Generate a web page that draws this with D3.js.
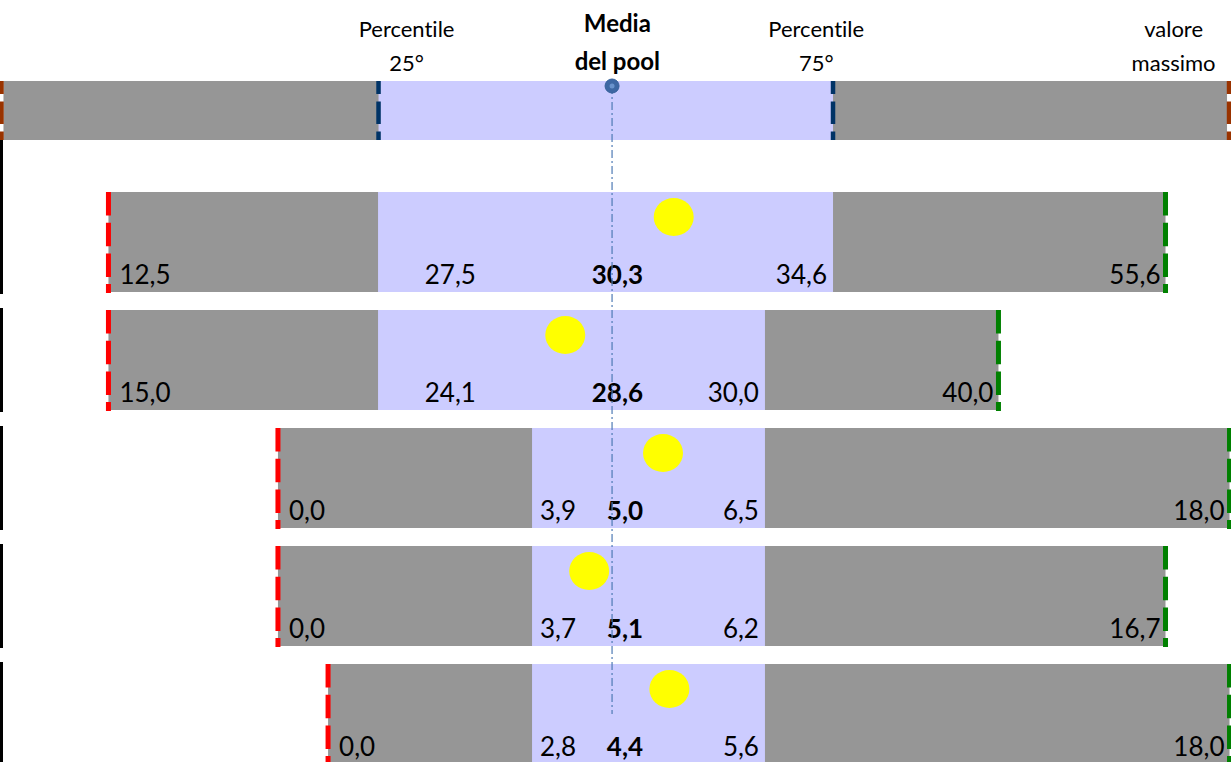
<!DOCTYPE html>
<html>
<head>
<meta charset="utf-8">
<script src="https://cdn.jsdelivr.net/npm/d3@7"></script>
<style>
  body { margin: 0; background: #fff; }
  svg { display: block; font-family: Lato, "Open Sans", sans-serif; font-variant-ligatures: none; }
</style>
</head>
<body>
<svg width="1231" height="762"></svg>
<script>
// values, one entry per row
const rowMin  = [12.5, 15.0, 0.0, 0.0, 0.0];
const rowP25  = [27.5, 24.1, 3.9, 3.7, 2.8];
const rowMean = [30.3, 28.6, 5.0, 5.1, 4.4];
const rowP75  = [34.6, 30.0, 6.5, 6.2, 5.6];
const rowMax  = [55.6, 40.0, 18.0, 16.7, 18.0];
// yellow dot = value of the unit (no label in the picture, estimated)
const unitValue = [31.5, 27.7, 5.5, 4.7, 4.85];

// legend row on top
const headerDomain = [0, 25, 50, 75, 100];
const headerLabels = [["Percentile", "25°"], ["Media", "del pool"], ["Percentile", "75°"], ["valore", "massimo"]];
const headerLabelAt = [28, 50.6, 73.1, 96.5];
const headerBold = [false, true, false, false];

// schematic layout: where min, p25, mean, p75, max sit in each row (percent of width)
const headerStops = [0.12, 30.75, 49.72, 67.67, 99.84];
const rowStops = [
  [8.81, 30.71, 49.72, 67.67, 94.68],
  [8.81, 30.71, 49.72, 62.14, 81.11],
  [22.58, 43.22, 49.72, 62.14, 99.88],
  [22.58, 43.22, 49.72, 62.14, 94.68],
  [26.65, 43.22, 49.72, 62.14, 99.88]
];

const width = 1231, height = 762;
const svg = d3.select('svg');
const fmt = d3.formatLocale({decimal: ",", thousands: ".", grouping: [3], currency: ["", "€"]}).format(".1f");

const frame = d3.scaleLinear().domain([0, 100]).range([0, width]);

const GRAY = '#969696', LAV = '#ccccff';

// ---------- header ----------
const hx = d3.scaleLinear().domain(headerDomain).range(headerStops.map(frame));
const headTop = 81, headH = 59;

svg.append('rect')
  .attr('x', hx(0) + 2).attr('y', headTop)
  .attr('width', hx(100) - hx(0) - 4).attr('height', headH)
  .attr('fill', GRAY);
svg.append('rect')
  .attr('x', hx(25)).attr('y', headTop)
  .attr('width', hx(75) - hx(25)).attr('height', headH)
  .attr('fill', LAV);

const headMarks = [[0, '#993300'], [25, '#003366'], [75, '#003366'], [100, '#993300']];
svg.selectAll('line.hmark').data(headMarks).enter().append('line')
  .attr('class', 'hmark')
  .attr('x1', d => hx(d[0])).attr('x2', d => hx(d[0]))
  .attr('y1', headTop).attr('y2', headTop + headH)
  .attr('stroke', d => d[1])
  .attr('stroke-width', 4.5)
  .attr('stroke-dasharray', '22.5,7.5')
  .attr('stroke-dashoffset', 9.5);

headerLabels.forEach((lines, i) => {
  const t = svg.append('text')
    .attr('x', hx(headerLabelAt[i]))
    .attr('text-anchor', 'middle')
    .attr('font-size', headerBold[i] ? 24 : 22)
    .attr('font-weight', headerBold[i] ? 'bold' : 'normal')
    .attr('fill', '#000');
  lines.forEach((s, j) => {
    t.append('tspan')
      .attr('x', hx(headerLabelAt[i]))
      .attr('y', (headerBold[i] ? 32 : 37) + j * (headerBold[i] ? 38 : 34))
      .text(s);
  });
});

// ---------- rows ----------
const rows = rowMin.map((m, i) => ({
  i: i, min: m, p25: rowP25[i], mean: rowMean[i], p75: rowP75[i], max: rowMax[i], unit: unitValue[i]
}));

const rowStep = 118, rowGap = 18, rowTop = 192;
const y = d3.scaleBand().domain(d3.range(rows.length))
  .range([rowTop, rowTop + rowStep * rows.length - rowGap])
  .paddingInner(rowGap / rowStep).paddingOuter(0);
const bh = y.bandwidth();

rows.forEach(r => {
  r.x = d3.scaleLinear()
    .domain([r.min, r.p25, r.mean, r.p75, r.max])
    .range(rowStops[r.i].map(frame));
});

// left frame edge of each small chart
svg.selectAll('line.edge').data(rows).enter().append('line')
  .attr('class', 'edge')
  .attr('x1', 1.5).attr('x2', 1.5)
  .attr('y1', d => d.i === 0 ? headTop + headH : y(d.i) - 2)
  .attr('y2', d => y(d.i) + bh + 2)
  .attr('stroke', '#000').attr('stroke-width', 3);

const g = svg.selectAll('g.row').data(rows).enter().append('g')
  .attr('class', 'row')
  .attr('transform', d => `translate(0,${y(d.i)})`);

g.append('rect')
  .attr('x', d => d.x(d.min)).attr('y', 0)
  .attr('width', d => d.x(d.max) - d.x(d.min)).attr('height', bh)
  .attr('fill', GRAY);
g.append('rect')
  .attr('x', d => d.x(d.p25)).attr('y', 0)
  .attr('width', d => d.x(d.p75) - d.x(d.p25)).attr('height', bh)
  .attr('fill', LAV);

// min (red) and max (green) dashed ends
[['min', '#ff0000'], ['max', '#008000']].forEach(([k, c]) => {
  g.append('line')
    .attr('x1', d => d.x(d[k])).attr('x2', d => d.x(d[k]))
    .attr('y1', 0).attr('y2', bh + 1)
    .attr('stroke', c).attr('stroke-width', 5)
    .attr('stroke-dasharray', '23.5,7.2');
});

g.append('ellipse')
  .attr('cx', d => d.x(d.unit)).attr('cy', 25)
  .attr('rx', 20).attr('ry', 19)
  .attr('fill', '#ffff00');

// value labels
const base = bh - 8;
const lab = (sel, cls) => sel.append('text').attr('class', cls)
  .attr('y', base).attr('font-size', 26).attr('fill', '#000');

lab(g, 'lmin').attr('x', d => d.x(d.min) + 11).text(d => fmt(d.min));
lab(g, 'lp25').attr('text-anchor', 'end')
  .attr('x', d => d.x(d.mean) + 16 - 0.65 * (d.x(d.mean) - d.x(d.p25)))
  .text(d => fmt(d.p25));
lab(g, 'lmean').attr('text-anchor', 'end').attr('font-weight', 'bold')
  .attr('x', d => d.x(d.mean) + 31).text(d => fmt(d.mean));
lab(g, 'lp75').attr('text-anchor', 'end')
  .attr('x', d => d.x(d.p75) - 6).text(d => fmt(d.p75));
lab(g, 'lmax').attr('text-anchor', 'end')
  .attr('x', d => d.x(d.max) - 5).text(d => fmt(d.max));

// pool mean reference: dash-dot line and dot
const meanX = hx(50);
svg.append('line')
  .attr('x1', meanX).attr('x2', meanX)
  .attr('y1', 86).attr('y2', y(rows.length - 1) + 50)
  .attr('stroke', '#4f7ab5').attr('stroke-width', 1.2)
  .attr('stroke-dasharray', '8,3,2,3');
svg.append('circle')
  .attr('cx', meanX).attr('cy', 86).attr('r', 7)
  .attr('fill', '#3d67a3').attr('stroke', '#36609a').attr('stroke-width', 1);
svg.append('circle')
  .attr('cx', meanX).attr('cy', 86).attr('r', 2.5)
  .attr('fill', '#6a93cc');
</script>
</body>
</html>
